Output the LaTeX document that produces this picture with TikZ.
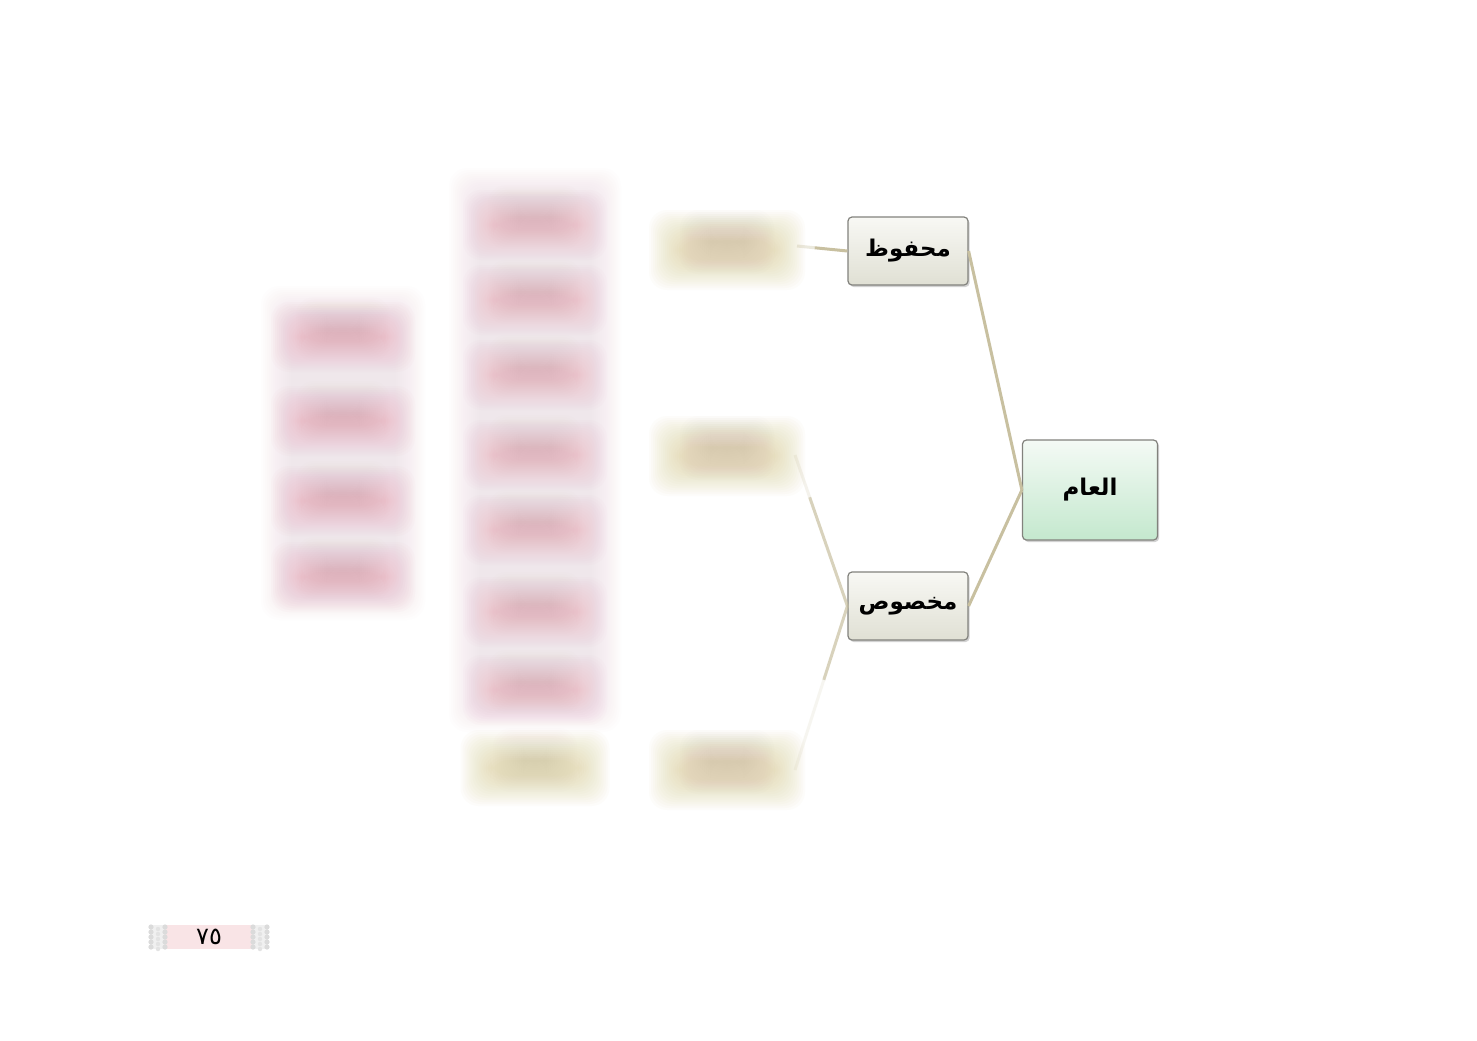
\documentclass[tikz,border=0pt]{standalone}
\usepackage{fontspec}
\newfontfamily\arfont[Script=Arabic]{DejaVu Sans}
\TeXXeTstate=1
\usetikzlibrary{shadows,calc}
\definecolor{connc}{RGB}{200,192,160}
\definecolor{boxdraw}{RGB}{130,130,125}
\definecolor{leafbot}{RGB}{224,224,212}
\definecolor{leaftop}{RGB}{248,248,244}
\definecolor{rootbot}{RGB}{196,232,206}
\definecolor{roottop}{RGB}{244,250,245}
\definecolor{pinkblob}{RGB}{236,150,172}
\definecolor{pinkbg}{RGB}{238,198,206}
\definecolor{yelblob}{RGB}{214,200,132}
\definecolor{smudge}{RGB}{170,150,140}
\definecolor{pagepink}{RGB}{249,228,230}
\tikzset{
  leaf/.style={draw=boxdraw, line width=0.6pt, rounded corners=2pt,
    top color=leaftop, bottom color=leafbot, minimum width=60pt, minimum height=34pt,
    inner sep=0pt, drop shadow={shadow xshift=0.8pt, shadow yshift=-1pt, opacity=0.35},
    font=\fontsize{11.5}{14}\arfont\bfseries},
  rootbox/.style={leaf, top color=roottop, bottom color=rootbot,
    minimum width=67.5pt, minimum height=50pt},
  conn/.style={draw=connc, line width=1.5pt},
  pagebox/.style={fill=pagepink, minimum width=49pt, minimum height=12pt, inner sep=0pt,
    font=\fontsize{12}{12}\arfont}
}
% \blurrect{cx}{cy}{w}{h}{colour}{opacity per layer}
\newcommand\blurrect[6]{%
  \foreach \k in {0,...,15}{%
    \pgfmathsetmacro\dd{22-2*\k}%
    \fill[#5,opacity=#6,rounded corners=9pt] (#1-#3/2-\dd,#2-#4/2-\dd) rectangle (#1+#3/2+\dd,#2+#4/2+\dd);
  }}
\begin{document}
\begin{tikzpicture}[x=0.5pt,y=-0.5pt]
\useasboundingbox (0,0) rectangle (1477,1040);
\fill[white] (0,0) rectangle (1477,1040);
% blurred column 1
\blurrect{343}{453}{120}{290}{pinkbg}{0.022}
\foreach \yy in {337,421,501,577}{
  \blurrect{343}{\yy}{100}{26}{pinkblob}{0.03}
  \blurrect{343}{\yy-8}{50}{20}{smudge}{0.012}
}
% blurred column 2
\blurrect{535}{450}{128}{520}{pinkbg}{0.024}
\foreach \yy in {225,300,375,455,530,612,690}{
  \blurrect{535}{\yy}{100}{26}{pinkblob}{0.028}
  \blurrect{535}{\yy-8}{50}{20}{smudge}{0.012}
}
\blurrect{535}{768}{105}{32}{yelblob}{0.04}
\blurrect{535}{760}{40}{20}{smudge}{0.012}
% blurred column 3
\foreach \yy in {250,456,770}{
  \blurrect{727}{\yy}{112}{36}{yelblob}{0.04}
  \blurrect{727}{\yy-8}{50}{20}{smudge}{0.014}
}
\coordinate (c1) at (797,246);
\coordinate (c2) at (795,455);
\coordinate (c3) at (795,770);
% main nodes
\node[leaf] (mahfuz) at (908,251) {\beginR محفوظ\endR};
\node[leaf] (makhsus) at (908,606) {\beginR مخصوص\endR};
\node[rootbox] (aam) at (1090,490) {\beginR العام\endR};
% connectors
\draw[conn] (mahfuz.east) -- (aam.west);
\draw[conn] (makhsus.east) -- (aam.west);
\draw[conn] (mahfuz.west) -- ($(mahfuz.west)!0.65!(c1)$);
\draw[conn,opacity=0.35] ($(mahfuz.west)!0.65!(c1)$) -- (c1);
\draw[conn,opacity=0.7] (makhsus.west) -- ($(makhsus.west)!0.72!(c2)$);
\draw[conn,opacity=0.2] ($(makhsus.west)!0.72!(c2)$) -- (c2);
\draw[conn,opacity=0.7] (makhsus.west) -- ($(makhsus.west)!0.45!(c3)$);
\draw[conn,opacity=0.15] ($(makhsus.west)!0.45!(c3)$) -- (c3);
% page number
\node[pagebox] (pg) at (209,937) {٧٥};
\foreach \cx in {158,260}{
  \fill[gray!12] (\cx-8,925) rectangle (\cx+8,949);
  \foreach \yy in {927,932,...,947}{
    \fill[gray!28] (\cx-7,\yy) circle (1.3pt);
    \fill[gray!28] (\cx+7,\yy) circle (1.3pt);
    \fill[gray!22] (\cx,\yy+2) circle (1.1pt);
  }
}
\end{tikzpicture}
\end{document}
